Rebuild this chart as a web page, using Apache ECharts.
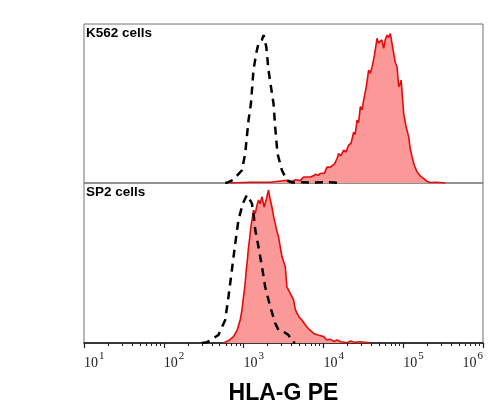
<!DOCTYPE html>
<html>
<head>
<meta charset="utf-8">
<script src="https://cdn.jsdelivr.net/npm/echarts@6/dist/echarts.min.js"></script>
<style>html,body{margin:0;padding:0;background:#fff}#c{width:500px;height:420px}</style>
</head>
<body>
<div id="c"></div>
<script>
// Panel labels and axis title
var panelLabels = ['K562 cells', 'SP2 cells'];
var axisTitle = 'HLA-G PE';
var majorTicks = [10, 100, 1000, 10000, 100000, 1000000];
var minorTicks = [20,30,40,50,60,70,80,90,200,300,400,500,600,700,800,900,2000,3000,4000,5000,6000,7000,8000,9000,20000,30000,40000,50000,60000,70000,80000,90000,200000,300000,400000,500000,600000,700000,800000,900000];

// K562: isotype control (dashed) [intensity, % of max]
var k562Control = [[589,0],[641,0.5],[741,2],[953,8],[1047,18.5],[1153,39.5],[1236,50],[1330,71],[1439,81.5],[1538,88],[1698,90],[1778,93],[1866,94],[1923,85.7],[2051,71],[2203,60.5],[2371,50],[2489,35],[2661,18.5],[3020,8],[3491,1.7],[4074,0.3],[5129,0.5],[8000,0.3],[12000,0.5],[16000,0]];
// K562: HLA-G PE (red filled)
var k562Stain = [[679,0],[1211,0.5],[2158,0.5],[3491,1.7],[3846,0.6],[4500,2],[5100,1.5],[5649,3.8],[5929,4.9],[6855,3.8],[7500,4.5],[8000,5.5],[8600,4.8],[9141,6],[9594,7],[10300,6.2],[11090,10],[12220,10],[12820,9],[13800,12],[14830,15.4],[15520,18.5],[16500,17],[17910,20.6],[19200,19.5],[20700,23.8],[22200,25],[23930,32],[25000,30.5],[26420,39.5],[27600,38],[29040,48],[30400,46],[31920,52],[34300,60],[36900,71],[38700,69],[40740,73],[43500,80],[46990,91],[49000,88],[51760,86.8],[53800,90],[56890,84.7],[59500,90],[62810,93],[65500,91.5],[69020,94],[72300,88],[76030,81.5],[79500,76],[83750,73],[87900,60.5],[91000,62],[94190,64.7],[97500,55],[101400,43.7],[108000,36],[117200,29],[122000,22],[129100,16.4],[138000,11],[149300,7],[163000,4.5],[180700,2.8],[200000,1],[219300,0.3],[260000,0.5],[338800,0]];
// SP2: isotype control (dashed)
var sp2Control = [[300,0],[347,0.5],[400,2.3],[484,5],[588,14.4],[647,29],[713,45.6],[785,62],[863,77],[980,87.3],[1099,92.5],[1153,93.5],[1271,87.3],[1330,81],[1400,70.6],[1538,60],[1698,47.7],[1866,35],[2158,22.7],[2489,12.3],[2742,8],[3170,7],[3656,5],[4036,0.8],[4436,0]];
// SP2: HLA-G PE (red filled)
var sp2Stain = [[560,0],[650,1.5],[746,4],[830,8],[906,14.4],[950,20],[998,29],[1040,36],[1079,45.6],[1115,52],[1153,60],[1195,66],[1236,72.7],[1285,78],[1330,83],[1400,81],[1470,86],[1538,89.4],[1610,87],[1698,91.4],[1811,85],[1930,90],[2051,95.6],[2150,90],[2265,85],[2380,79],[2489,74.8],[2610,70],[2742,66.4],[2880,60],[3027,54],[3170,51],[3327,47.7],[3491,35],[3660,33],[3846,31],[4030,29],[4227,27],[4440,21],[4667,18.6],[5000,16],[5383,14.4],[5800,12],[6209,10],[6800,8],[7534,6],[8500,5],[10070,4],[11000,2],[12220,2.3],[13500,1],[14830,1.9],[16500,0.8],[19770,0.2],[22000,1.2],[24000,0.5],[29040,0.8],[38730,0]];

var RED = '#e60b0b', FILL = '#fb9898';
var chart = echarts.init(document.getElementById('c'), null, {renderer: 'canvas'});
var xBase = {type: 'log', logBase: 10, min: 10, max: 1000000, interval: 1, splitLine: {show: false}};
chart.setOption({
  animation: false,
  backgroundColor: '#fff',
  title: [
    {text: panelLabels[0], left: 86, top: 26, textStyle: {fontFamily: 'Liberation Sans', fontWeight: 'bold', fontSize: 13.5, color: '#000'}, padding: 0},
    {text: panelLabels[1], left: 86, top: 185, textStyle: {fontFamily: 'Liberation Sans', fontWeight: 'bold', fontSize: 13.5, color: '#000'}, padding: 0}
  ],
  grid: [
    {left: 84, right: 17, top: 24, height: 159, show: true, borderColor: '#6e6e6e', borderWidth: 1, backgroundColor: 'transparent'},
    {left: 84, right: 17, top: 183, height: 160, show: true, borderColor: '#6e6e6e', borderWidth: 1, backgroundColor: 'transparent'}
  ],
  xAxis: [
    Object.assign({}, xBase, {gridIndex: 0, show: false}),
    Object.assign({}, xBase, {
      gridIndex: 1, position: 'bottom',
      name: axisTitle, nameLocation: 'middle', nameGap: 39,
      nameTextStyle: {fontFamily: 'Liberation Sans', fontWeight: 'bold', fontSize: 23, color: '#000'},
      axisLine: {show: true, lineStyle: {color: '#111', width: 1.5}},
      axisTick: {show: true, length: 5, lineStyle: {color: '#222', width: 1.2}, customValues: majorTicks},
      axisLabel: {
        show: true, margin: 5, align: 'left', alignMaxLabel: 'right', customValues: majorTicks,
        formatter: function (v) { return '{b|10}{s|' + Math.round(Math.log10(v)) + '}'; },
        rich: {
          b: {fontFamily: 'Liberation Serif', fontSize: 14, color: '#222', lineHeight: 22, verticalAlign: 'bottom'},
          s: {fontFamily: 'Liberation Serif', fontSize: 11, color: '#222', lineHeight: 22, verticalAlign: 'bottom', padding: [0, 0, 8, 1]}
        }
      }
    }),
    Object.assign({}, xBase, {
      gridIndex: 1, position: 'bottom',
      axisLine: {show: false},
      axisTick: {show: true, length: 3, lineStyle: {color: '#222', width: 1}, customValues: minorTicks},
      axisLabel: {show: false}
    })
  ],
  yAxis: [
    {type: 'value', gridIndex: 0, min: 0, max: 100, show: false},
    {type: 'value', gridIndex: 1, min: 0, max: 100, show: false}
  ],
  series: [
    {type: 'line', xAxisIndex: 0, yAxisIndex: 0, data: k562Stain, showSymbol: false, z: 2,
     lineStyle: {color: RED, width: 1.6}, itemStyle: {color: RED}, areaStyle: {color: FILL, opacity: 1}},
    {type: 'line', xAxisIndex: 0, yAxisIndex: 0, data: k562Control, showSymbol: false, z: 3,
     lineStyle: {color: '#000', width: 2.5, type: [8, 6]}, itemStyle: {color: '#000'}},
    {type: 'line', xAxisIndex: 1, yAxisIndex: 1, data: sp2Stain, showSymbol: false, z: 2,
     lineStyle: {color: RED, width: 1.6}, itemStyle: {color: RED}, areaStyle: {color: FILL, opacity: 1}},
    {type: 'line', xAxisIndex: 1, yAxisIndex: 1, data: sp2Control, showSymbol: false, z: 3,
     lineStyle: {color: '#000', width: 2.5, type: [8, 6]}, itemStyle: {color: '#000'}}
  ]
});
</script>
</body>
</html>
